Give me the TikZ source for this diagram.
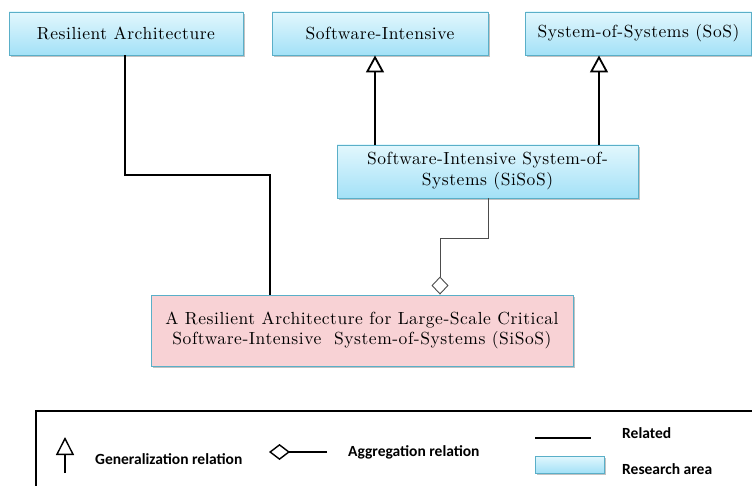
\documentclass[tikz,border=0pt]{standalone}
\usepackage{fontspec}
\newfontfamily\legfont{Carlito}
\newfontfamily\boxfont{lmroman10-regular.otf}[LetterSpace=3.1]
\usetikzlibrary{arrows.meta,shadows,calc}
\definecolor{bordc}{HTML}{5AAFC8}
\definecolor{topc}{HTML}{E2F7FD}
\definecolor{botc}{HTML}{A3E1F7}
\definecolor{pinkc}{HTML}{F8D2D5}
\tikzset{
  area/.style={draw=bordc, line width=0.9pt, top color=topc, bottom color=botc,
    drop shadow={shadow xshift=1.5pt, shadow yshift=-2pt, opacity=0.4, fill=black!60},
    inner sep=0pt, font=\boxfont\fontsize{17.5}{21}\selectfont, align=center},
  thesis/.style={draw=bordc, line width=0.9pt, fill=pinkc,
    drop shadow={shadow xshift=1.5pt, shadow yshift=-2pt, opacity=0.4, fill=black!60},
    inner sep=0pt, font=\boxfont\fontsize{17.5}{20.5}\selectfont, align=center},
  related/.style={line width=1.8pt, black},
  gen/.style={line width=1.8pt, black, -{Triangle[open, fill=white, width=18pt, length=17pt]}},
  agg/.style={line width=0.9pt, black!70, -{Diamond[open, fill=white, width=17pt, length=18pt]}},
  legtext/.style={anchor=west, inner sep=0pt, font=\legfont\bfseries\fontsize{15.5}{18}\selectfont},
}
\begin{document}
\begin{tikzpicture}[x=1pt, y=-1pt]
\useasboundingbox (0,0) rectangle (752,486);
% boxes
\node[area, minimum width=234pt, minimum height=43pt] (ra) at (126,33.5) {Resilient Architecture};
\node[area, minimum width=216pt, minimum height=43pt] (swi) at (380,33.5) {Software-Intensive};
\node[area, minimum width=226pt, minimum height=43pt] (sos) at (638.5,33.5) {System-of-Systems (SoS)};
\node[area, minimum width=301pt, minimum height=53pt] (sisos) at (487.5,171.5) {Software-Intensive System-of-\\Systems (SiSoS)};
\node[thesis, minimum width=422pt, minimum height=71pt] (main) at (362,330.5) {A Resilient Architecture for Large-Scale Critical\\Software-Intensive\ \ System-of-Systems (SiSoS)};
% connectors
\coordinate (r1) at (125,175);
\coordinate (r2) at (270,175);
\draw[related] (r1 |- ra.south) -- (r1) -- (r2) -- (r2 |- main.north);
\coordinate (g1) at (375,0);
\coordinate (g2) at (599,0);
\draw[gen] (g1 |- sisos.north) -- (g1 |- swi.south);
\draw[gen] (g2 |- sisos.north) -- (g2 |- sos.south);
\coordinate (a1) at (488,238);
\coordinate (a2) at (440,238);
\draw[agg] (a1 |- sisos.south) -- (a1) -- (a2) -- (a2 |- main.north);
% legend
\coordinate (lb1) at (36,490);
\coordinate (lb2) at (36,411);
\coordinate (lb3) at (756,411);
\draw[line width=1.5pt] (lb1) -- (lb2) -- (lb3);
\coordinate (lg1) at (65,473);
\coordinate (lg2) at (65,437);
\draw[line width=1.4pt, -{Triangle[open, fill=white, width=18pt, length=18pt]}] (lg1) -- (lg2);
\node[legtext] (lgt) at (95,459) {Generalization relation};
\coordinate (la1) at (327,452);
\coordinate (la2) at (269,452);
\draw[line width=1.4pt, -{Diamond[open, fill=white, width=16pt, length=21pt]}] (la1) -- (la2);
\node[legtext] (lat) at (348,452) {Aggregation relation};
\coordinate (lr1) at (535,438);
\coordinate (lr2) at (591,438);
\draw[line width=1.5pt] (lr1) -- (lr2);
\node[legtext] (lrt) at (622,433) {Related};
\node[area, minimum width=69pt, minimum height=17pt, line width=0.8pt] (lbox) at (569.5,464.5) {};
\node[legtext] (lbt) at (622,469) {Research area};
\end{tikzpicture}
\end{document}
